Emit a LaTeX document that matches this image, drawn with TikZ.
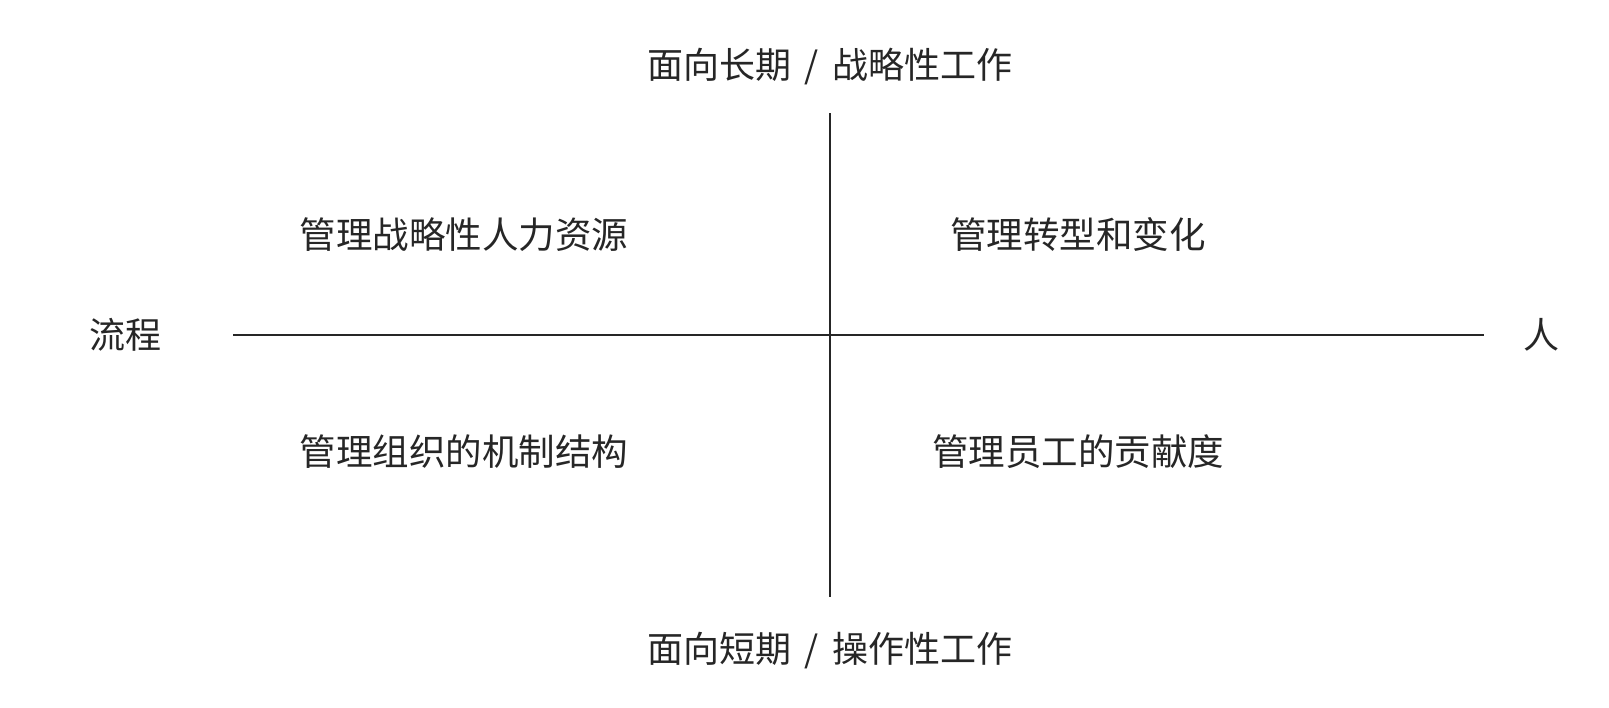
\documentclass[tikz,border=0pt]{standalone}
\usepackage{fontspec}
\setmainfont{Noto Sans CJK SC}
\begin{document}
\begin{tikzpicture}[x=1pt,y=-1pt,
  axis/.style={line width=1.5pt,draw=black!85},
  quad/.style={font=\fontsize{36.5}{40}\selectfont,inner sep=0pt,text=black!85},
  lab/.style={font=\fontsize{36}{40}\selectfont,inner sep=0pt,text=black!85}]
\useasboundingbox (0,0) rectangle (1609,707);
\coordinate (vt) at (830,113);
\coordinate (vb) at (830,597);
\coordinate (hl) at (233,335);
\coordinate (hr) at (1484,335);
\draw[axis] (vt) -- (vb);
\draw[axis] (hl) -- (hr);
\node[lab] (top) at (830,67) {面向长期\hspace{5pt} / \hspace{5pt}战略性工作};
\node[lab] (bot) at (830,651) {面向短期\hspace{5pt} / \hspace{5pt}操作性工作};
\node[lab] (left) at (125,335) {流程};
\node[lab] (right) at (1541,335) {人};
\node[quad] (q1) at (464,235) {管理战略性人力资源};
\node[quad] (q2) at (1078,234) {管理转型和变化};
\node[quad] (q3) at (464,452) {管理组织的机制结构};
\node[quad] (q4) at (1078,452) {管理员工的贡献度};
\end{tikzpicture}
\end{document}
